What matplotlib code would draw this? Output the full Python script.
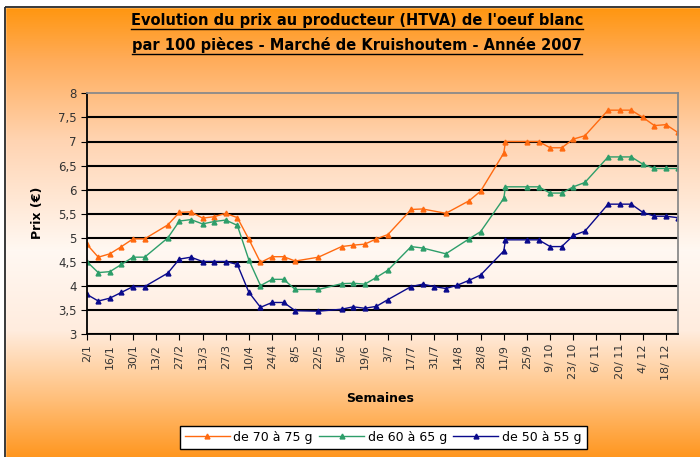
import matplotlib
matplotlib.use('Agg')
import matplotlib.pyplot as plt
import numpy as np
from matplotlib.patches import Rectangle
from matplotlib.lines import Line2D
from matplotlib.ticker import FuncFormatter

# data: days since 2/1/2007, producer price per 100 eggs
days = [0, 7, 14, 21, 28, 35, 49, 56, 63, 70, 77, 84, 91, 98, 105, 112, 119, 126,
        140, 154, 161, 168, 175, 182, 196, 203, 210, 217, 224, 231, 238, 252, 253,
        266, 273, 280, 287, 294, 301, 315, 322, 329, 336, 343, 350, 357]

prix_70_75 = [4.87, 4.60, 4.67, 4.82, 4.98, 4.98, 5.27, 5.53, 5.54, 5.41, 5.44, 5.51,
              5.42, 4.97, 4.49, 4.61, 4.61, 4.52, 4.60, 4.82, 4.85, 4.87, 4.98, 5.07,
              5.59, 5.60, None, 5.51, None, 5.77, 5.97, 6.76, 7.00, 7.00, 7.00, 6.87,
              6.87, 7.05, 7.12, 7.65, 7.65, 7.65, 7.50, 7.33, 7.35, 7.19]

prix_60_65 = [4.51, 4.28, 4.30, 4.45, 4.60, 4.60, 5.00, 5.35, 5.38, 5.29, 5.34, 5.37,
              5.26, 4.54, 4.01, 4.14, 4.14, 3.93, 3.93, 4.05, 4.06, 4.04, 4.18, 4.33,
              4.82, 4.79, None, 4.67, None, 4.98, 5.13, 5.82, 6.06, 6.06, 6.06, 5.93,
              5.93, 6.06, 6.15, 6.68, 6.68, 6.68, 6.53, 6.44, 6.44, 6.44]

prix_50_55 = [3.83, 3.69, 3.75, 3.87, 3.99, 3.99, 4.27, 4.56, 4.60, 4.51, 4.51, 4.51,
              4.45, 3.87, 3.56, 3.66, 3.66, 3.49, 3.48, 3.52, 3.57, 3.54, 3.58, 3.72,
              3.99, 4.04, 3.99, 3.95, 4.02, 4.12, 4.23, 4.73, 4.96, 4.96, 4.96, 4.82,
              4.82, 5.05, 5.14, 5.70, 5.70, 5.70, 5.53, 5.45, 5.45, 5.42]

week_labels = ['2/1', '16/1', '30/1', '13/2', '27/2', '13/3', '27/3', '10/4', '24/4',
               '8/5', '22/5', '5/6', '19/6', '3/7', '17/7', '31/7', '14/8', '28/8',
               '11/9', '25/9', '9/ 10', '23/ 10', '6/ 11', '20/ 11', '4/ 12', '18/ 12']

series_names = ['de 70 à 75 g', 'de 60 à 65 g', 'de 50 à 55 g']
series_colors = ['#FF6A10', '#2E9E6A', '#0A0A8C']

W, H = 700, 457
fig = plt.figure(figsize=(W / 100, H / 100), dpi=100)

# orange -> white -> orange background
bg = fig.add_axes([0, 0, 1, 1], zorder=-10)
ys = np.arange(H)
stop_y = [0, 7, 60, 140, 250, 330, 400, 457]
stop_r = [255, 255, 255, 255, 255, 255, 255, 255]
stop_g = [150, 150, 172, 212, 248, 236, 190, 150]
stop_b = [15, 15, 90, 178, 242, 222, 120, 30]
img = np.stack([np.interp(ys, stop_y, c) for c in (stop_r, stop_g, stop_b)], axis=-1) / 255
bg.imshow(img.reshape(H, 1, 3), aspect='auto', extent=[0, W, H, 0])
bg.add_patch(Rectangle((0, 0), W, 7, color='white'))
bg.add_patch(Rectangle((0, 0), 5, H, color='white'))
bg.add_patch(Rectangle((5, 7), W + 5, H + 5, fill=False, edgecolor='#2a2a2a', lw=1.3))
bg.set_xlim(0, W)
bg.set_ylim(H, 0)
bg.axis('off')

ax = fig.add_axes([86.7 / W, 1 - 334.3 / H, (677.6 - 86.7) / W, (334.3 - 93.3) / H])
ax.patch.set_alpha(0)

for vals, name, col in zip([prix_70_75, prix_60_65, prix_50_55], series_names, series_colors):
    xs = [d for d, v in zip(days, vals) if v is not None]
    vs = [v for v in vals if v is not None]
    ax.plot(xs, vs, color=col, lw=1, marker='^', ms=3.5, label=name)

ax.set_xlim(0, 357)
ax.set_ylim(3, 8)
ax.set_yticks(np.arange(3, 8.01, 0.5))
ax.yaxis.set_major_formatter(FuncFormatter(lambda v, p: ('%g' % v).replace('.', ',')))
ax.set_xticks(np.arange(len(week_labels)) * 14)
ax.set_xticklabels(week_labels, rotation=90)
ax.yaxis.grid(True, color='black', lw=1.5)
ax.set_axisbelow(True)
ax.get_ygridlines()[-1].set_visible(False)
ax.tick_params(axis='y', direction='out', length=4, labelsize=8.5, labelcolor='#333333', pad=3)
ax.tick_params(axis='x', direction='out', length=4, labelsize=8, labelcolor='#333333', pad=3)

ax.spines['left'].set_color('black')
ax.spines['bottom'].set_color('black')
ax.spines['top'].set_color('#8a8a8a')
ax.spines['right'].set_color('#8a8a8a')
for s in ax.spines.values():
    s.set_linewidth(1.3)

# titles
t1 = fig.text(357 / W, 1 - 20 / H, "Evolution du prix au producteur (HTVA) de l'oeuf blanc",
              ha='center', va='center', fontsize=10.5, fontweight='bold')
t2 = fig.text(357 / W, 1 - 45 / H, "par 100 pièces - Marché de Kruishoutem - Année 2007",
              ha='center', va='center', fontsize=10.5, fontweight='bold')
fig.text(380 / W, 1 - 398 / H, 'Semaines', ha='center', va='center', fontsize=9, fontweight='bold')
fig.text(38 / W, 1 - 213 / H, 'Prix (€)', ha='center', va='center', rotation=90,
         fontsize=9, fontweight='bold')

leg = ax.legend(ncol=3, loc='center', bbox_to_anchor=(383 / W, 1 - 437 / H),
                bbox_transform=fig.transFigure, fontsize=9, frameon=True, fancybox=False,
                edgecolor='black', framealpha=1, handlelength=3.6, handletextpad=0.3,
                columnspacing=0.5, borderpad=0.4)
leg.get_frame().set_linewidth(1)

# underline the title lines
fig.canvas.draw()
for t in (t1, t2):
    bb = t.get_window_extent()
    fig.add_artist(Line2D([bb.x0, bb.x1], [bb.y0 - 1, bb.y0 - 1], transform=None,
                          color='black', lw=1))

fig.savefig('out.png', dpi=100)
